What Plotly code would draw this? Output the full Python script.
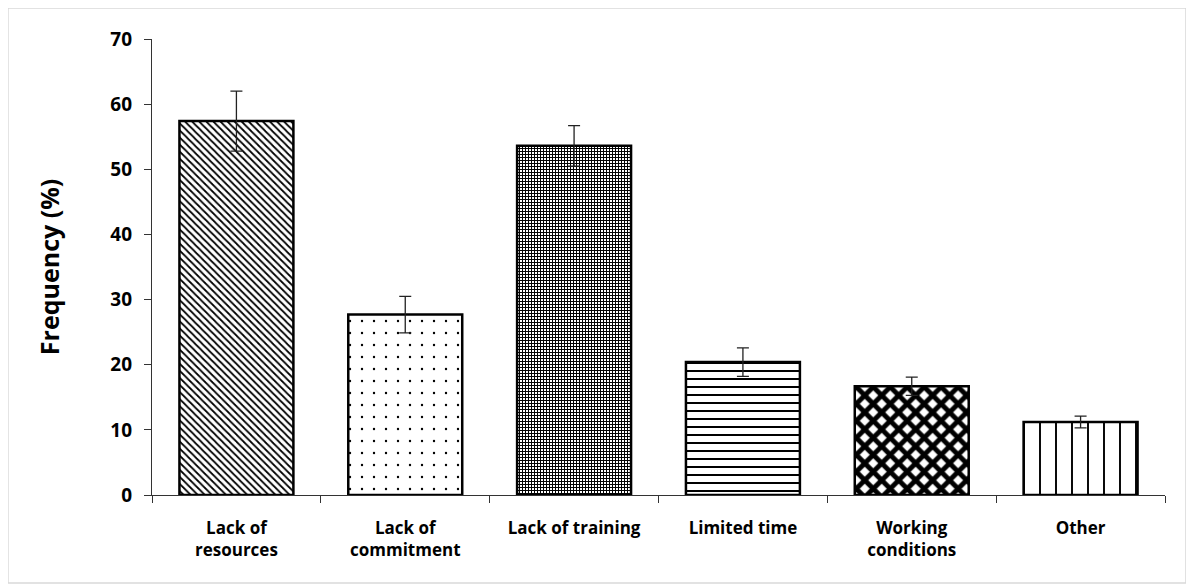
import plotly.graph_objects as go

categories = ["Lack of<br>resources", "Lack of<br>commitment", "Lack of training",
              "Limited time", "Working<br>conditions", "Other"]
frequency = [57.4, 27.7, 53.6, 20.4, 16.7, 11.2]
error = [4.6, 2.8, 3.1, 2.2, 1.4, 0.9]
y_ticks = [0, 10, 20, 30, 40, 50, 60, 70]

patterns = ["\\", ".", "+", "-", "x", "|"]
pattern_sizes = [5, 12, 3, 8, 12, 16]
pattern_solidity = [0.35, 0.03, 0.55, 0.25, 0.65, 0.12]

FONT = "Open Sans"

fig = go.Figure()
fig.add_trace(go.Bar(
    x=categories,
    y=frequency,
    width=0.675,
    marker=dict(
        color="white",
        line=dict(color="black", width=2.5),
        pattern=dict(shape=patterns, size=pattern_sizes, solidity=pattern_solidity,
                     fgcolor="black", bgcolor="white", fillmode="replace"),
    ),
    error_y=dict(type="data", array=error, visible=True, color="#222222",
                 thickness=1.3, width=6),
    showlegend=False,
))

fig.update_layout(
    width=1194, height=584,
    margin=dict(l=144, r=37, t=31, b=97),
    paper_bgcolor="white", plot_bgcolor="white",
    font=dict(family=FONT, size=17, color="black"),
    xaxis=dict(
        type="category",
        showline=True, linecolor="#333333", linewidth=1.3,
        ticks="outside", tickson="boundaries", ticklen=7, tickcolor="#333333",
        tickfont=dict(family=FONT, size=17, color="black", weight="bold"),
        ticklabelstandoff=17,
        showgrid=False, zeroline=False,
    ),
    yaxis=dict(
        range=[0, 70],
        tickvals=y_ticks,
        showline=True, linecolor="#333333", linewidth=1.3,
        ticks="outside", ticklen=7, tickcolor="#333333",
        tickfont=dict(family=FONT, size=19, color="black", weight="bold"),
        ticklabelstandoff=8,
        showgrid=False, zeroline=False,
        title=dict(text="Frequency (%)", font=dict(family=FONT, size=25, color="black", weight="bold"),
                   standoff=43),
    ),
    shapes=[dict(type="rect", xref="paper", yref="paper",
                 x0=-0.1422, x1=1.0207, y0=-0.193, y1=1.068,
                 line=dict(color="#d9d9d9", width=1.5), fillcolor="rgba(0,0,0,0)",
                 layer="below")],
)

fig.write_html("out.html")
